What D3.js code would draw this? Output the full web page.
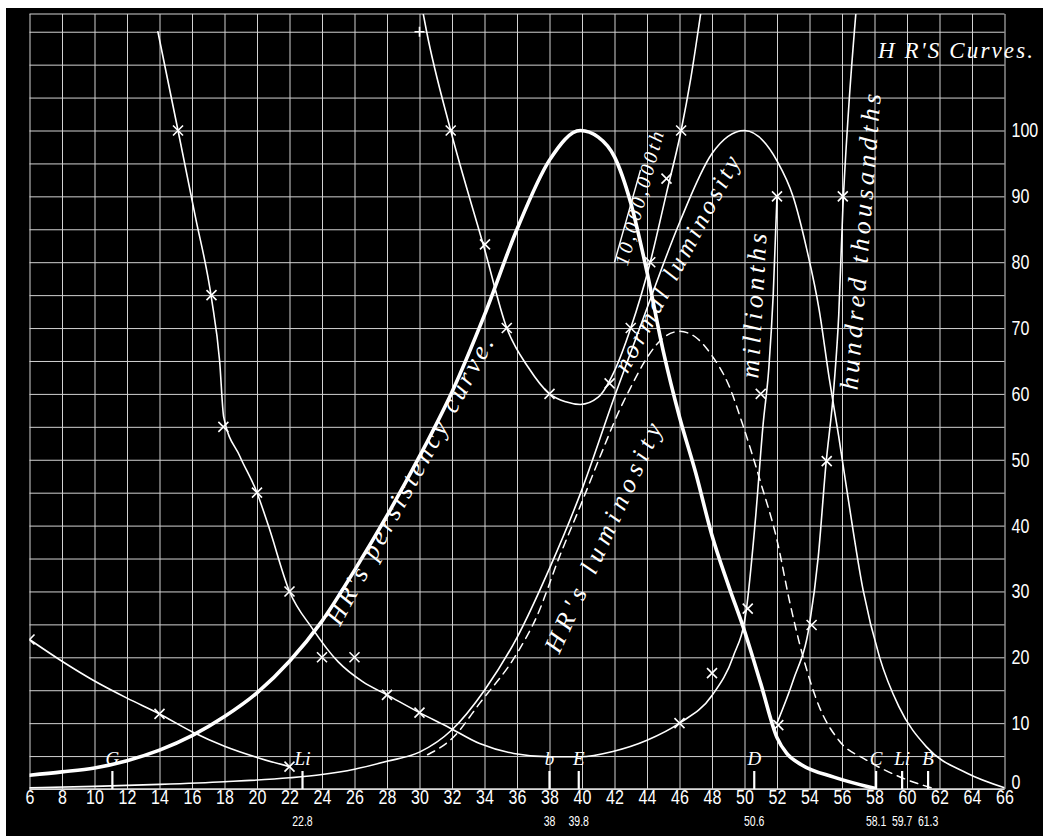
<!DOCTYPE html>
<html><head><meta charset="utf-8">
<script src="https://cdn.jsdelivr.net/npm/d3@7"></script>
<style>
html,body{margin:0;padding:0;background:#fff;}
svg{display:block;}
</style></head><body>
<svg id="chart" width="1043" height="836"></svg>
<script>
// ---------- data ----------
const xTicks = d3.range(6, 67, 2);
const yTicks = d3.range(0, 101, 10);
const gridXValues = d3.range(6, 67, 2);
const gridYValues = d3.range(0, 116, 5);

const persistency = [[6,2.1],[8,2.6],[10,3.2],[12,4.3],[14,5.9],[16,8.1],[18,11],[20,14.6],[22,19.4],[24,25.5],[26,33.2],[28,41.5],[30,50.5],[32,60.3],[34,72],[36,85],[38,95.5],[39.9,100],[41,99],[42,96],[43,89],[44,78.5],[45,66.5],[46,56.5],[47,48],[48,38.5],[49,31],[50,24],[51,16],[52,7.8],[52.6,5.4],[53.5,3.7],[55.5,1.8],[58,0.1]];

const luminosity = [[6,0.2],[10,0.4],[14,0.7],[18,1.1],[22,1.7],[24,2.2],[26,3],[28,4.2],[30,5.6],[32,9],[34,15],[36,23],[38,33.5],[40,45.5],[42,59.6],[44,73],[46,86],[48,96.5],[50,100],[52,95.4],[53,89.9],[53.8,82.3],[54.6,72.7],[55.2,62.6],[55.8,53.5],[56.3,45.4],[57.3,30.2],[58.3,20.1],[59.5,12.5],[61.2,6.4],[63.7,2.4],[66,0.2]];

const normalLuminosity = [[30.5,5.2],[32.1,7.9],[33.7,13],[36,20.6],[37.2,26.1],[38.6,35.2],[39.9,43],[41.1,50.4],[42.3,57.5],[43,61],[44,65.5],[45,68.5],[46,69.5],[47,68.6],[48,65.8],[49,61.5],[50,54.5],[51,46.5],[52,37.8],[52.8,28.2],[53.6,20.1],[54.6,12.5],[55.8,7.4],[57.5,4.4],[59.5,1.9],[61.6,0.1]];

const millionths = [[13.9,115],[15.14,100],[16.2,87],[17.2,74.5],[17.7,65],[17.95,56.5],[18.95,50.5],[20,45],[20.7,40],[22,30],[23.4,24.4],[25,19.3],[26.5,16.3],[28,14.3],[30,11.6],[31.7,9.5],[33.7,6.9],[35.8,5.4],[38,4.9],[39.9,4.9],[41.9,5.7],[44,7.4],[46,10],[48,14.2],[49.3,20.1],[50.1,27],[50.65,40.3],[51.15,55.5],[51.5,64],[51.77,75.2],[52,90]];
const millionthsMarks = [[15.14,100],[17.2,75],[17.93,55],[20,45],[22,30],[24,20],[26,20],[28,14.3],[30,11.6],[46,10],[48,17.6],[50.2,27.4],[51,60],[52,90]];

const tenMillionths = [[30.23,117.7],[30.44,115],[31.92,100],[34,82],[35.37,70],[36.7,64],[38,60],[39,58.8],[39.9,58.4],[41,59.5],[42,63.5],[43,70],[44.2,80],[45.2,90.5],[46.1,100],[46.7,108],[47.3,117.7]];
const tenMillionthsMarks = [[31.92,100],[34.03,82.7],[35.37,70],[38,60],[41.7,61.6],[43,70],[44.2,80],[45.2,92.7],[46.1,100]];
const tenMillionthsPlus = [[30,115]];
const tenMillionthsRule = [[42.0,80],[43.6,94]];

const hundredThousandths = [[52,10],[53,16.5],[54,25],[54.54,35.3],[55,49],[55.5,61],[55.8,72],[56.05,88],[56.4,103],[56.85,117.7]];
const hundredThousandthsMarks = [[52.08,9.7],[54.13,24.9],[55.06,49.8],[56.05,90]];

const tenThousandths = [[6,22.7],[8,19.4],[10,16.4],[12,13.8],[14,11.4],[16,8.7],[18,6.5],[20,4.8],[22,3.4]];
const tenThousandthsMarks = [[6,22.7],[14,11.4],[22,3.4]];

const spectralLines = ["G","Li","b","E","D","C","Li","B"];
const spectralPos = [11.1,22.8,38,39.8,50.6,58.1,59.7,61.3];
const spectralSub = ["","22.8","38","39.8","50.6","58.1","59.7","61.3"];

const title = "H R'S Curves.";
const curveLabels = [
  {text:"HR's persistency curve.", at:[25.1,24.6], len:324, angle:-61.5, size:26},
  {text:"HR's luminosity", at:[38.6,20.4], len:249, angle:-65.5, size:26},
  {text:"normal luminosity", at:[42.8,63], len:241, angle:-62, size:25},
  {text:"10,000,000th", at:[42.8,79.3], len:138, angle:-74.7, size:20},
  {text:"millionths", at:[50.85,62.3], len:145, angle:-86.7, size:26},
  {text:"hundred thousandths", at:[56.95,60.5], len:297, angle:-85.5, size:26}
];

// ---------- layout ----------
const svg = d3.select("#chart");
const W = 1043, H = 836;
const x = d3.scaleLinear().domain([6, 66]).range([29.5, 1004.5]);
const y = d3.scaleLinear().domain([0, 100]).range([789, 130.5]);
const topY = 14;

svg.append("rect").attr("x",0).attr("y",0).attr("width",W).attr("height",H).attr("fill","#fff");
svg.append("rect").attr("x",6).attr("y",8).attr("width",W-6).attr("height",H-8).attr("fill","#000");

svg.append("defs").append("clipPath").attr("id","plot")
  .append("rect").attr("x",x(6)).attr("y",topY).attr("width",x(66)-x(6)).attr("height",y(0)-topY);

// grid via axes
const gridCol = "#d2d2d2";
const gx = svg.append("g").attr("transform",`translate(0,${y(0)})`)
  .call(d3.axisBottom(x).tickValues(gridXValues).tickSize(-(y(0)-topY)).tickFormat(""));
gx.select(".domain").remove();
gx.selectAll("line").attr("stroke",gridCol).attr("stroke-width",1);
const gy = svg.append("g").attr("transform",`translate(${x(6)},0)`)
  .call(d3.axisLeft(y).tickValues(gridYValues).tickSize(-(x(66)-x(6))).tickFormat(""));
gy.select(".domain").remove();
gy.selectAll("line").attr("stroke",gridCol).attr("stroke-width",1);
svg.append("line").attr("x1",x(6)).attr("x2",x(66)).attr("y1",topY).attr("y2",topY)
  .attr("stroke",gridCol).attr("stroke-width",1.2);
svg.append("line").attr("x1",x(6)).attr("x2",x(66)).attr("y1",y(0)).attr("y2",y(0))
  .attr("stroke","#ddd").attr("stroke-width",1.5);

// axes labels
const numFont = "'Liberation Sans','Arial',sans-serif";
const ax = svg.append("g").attr("transform",`translate(0,${y(0)})`)
  .call(d3.axisBottom(x).tickValues(xTicks).tickSize(0).tickPadding(1).tickFormat(d3.format("d")));
ax.select(".domain").remove();
ax.selectAll("text").attr("fill","#fff").attr("font-size",20).attr("font-family",numFont)
  .attr("transform","scale(0.8,1)");

const ay = svg.append("g").attr("transform",`translate(${x(66)+7},0)`)
  .call(d3.axisRight(y).tickValues(yTicks).tickSize(0).tickPadding(0).tickFormat(d3.format("d")));
ay.select(".domain").remove();
ay.selectAll("text").attr("fill","#fff").attr("font-size",20).attr("font-family",numFont)
  .attr("transform",d => d === 0 ? "translate(0,-7) scale(0.8,1)" : "scale(0.8,1)");

// curves
const plot = svg.append("g").attr("clip-path","url(#plot)");
const line = d3.line().x(d=>x(d[0])).y(d=>y(d[1])).curve(d3.curveMonotoneX);
const straight = d3.line().x(d=>x(d[0])).y(d=>y(d[1]));

function drawCurve(data, width, dash){
  plot.append("path").datum(data).attr("d",line).attr("fill","none")
    .attr("stroke","#fff").attr("stroke-width",width)
    .attr("stroke-dasharray",dash||null).attr("stroke-linecap","round");
}
drawCurve(persistency, 3.6);
drawCurve(luminosity, 1.6);
drawCurve(normalLuminosity, 1.5, "8,6");
drawCurve(millionths, 1.6);
drawCurve(tenMillionths, 1.6);
drawCurve(hundredThousandths, 1.6);
drawCurve(tenThousandths, 1.6);
plot.append("path").datum(tenMillionthsRule).attr("d",straight).attr("fill","none")
  .attr("stroke","#fff").attr("stroke-width",1.4);

// markers
const marks = [].concat(millionthsMarks, tenMillionthsMarks, hundredThousandthsMarks, tenThousandthsMarks);
const mg = plot.append("g");
marks.forEach(d=>{
  const cx = x(d[0]), cy = y(d[1]), r = 5;
  mg.append("path").attr("d",`M${cx-r},${cy-r}L${cx+r},${cy+r}M${cx-r},${cy+r}L${cx+r},${cy-r}`)
    .attr("stroke","#fff").attr("stroke-width",1.6).attr("fill","none");
});
tenMillionthsPlus.forEach(d=>{
  const cx = x(d[0]), cy = y(d[1]), r = 5;
  mg.append("path").attr("d",`M${cx-r},${cy}L${cx+r},${cy}M${cx},${cy-r}L${cx},${cy+r}`)
    .attr("stroke","#fff").attr("stroke-width",1.6).attr("fill","none");
});

// spectral lines
const serif = "'Liberation Serif','DejaVu Serif',serif";
spectralPos.forEach((p,i)=>{
  svg.append("line").attr("x1",x(p)).attr("x2",x(p)).attr("y1",y(0)-18).attr("y2",y(0))
    .attr("stroke","#fff").attr("stroke-width",2.2);
  svg.append("text").attr("x",x(p)).attr("y",y(0)-24).attr("text-anchor","middle")
    .attr("fill","#fff").attr("font-family",serif).attr("font-style","italic").attr("font-size",19)
    .text(spectralLines[i]);
  if (spectralSub[i]) {
    svg.append("text").attr("x",x(p)).attr("y",826).attr("text-anchor","middle")
      .attr("fill","#fff").attr("font-family",numFont).attr("font-size",14)
      .attr("transform",`translate(${x(p)*0.25},0) scale(0.75,1)`)
      .text(spectralSub[i]);
  }
});

// curve labels
curveLabels.forEach(l=>{
  svg.append("text")
    .attr("transform",`translate(${x(l.at[0])},${y(l.at[1])}) rotate(${l.angle})`)
    .attr("fill","#fff").attr("font-family",serif).attr("font-style","italic")
    .attr("font-size",l.size).attr("textLength",l.len).attr("lengthAdjust","spacing")
    .text(l.text);
});

// title
svg.append("text").attr("x",878).attr("y",58).attr("fill","#fff")
  .attr("font-family",serif).attr("font-style","italic").attr("font-size",23)
  .attr("textLength",155).attr("lengthAdjust","spacing").text(title);
</script>
</body></html>
